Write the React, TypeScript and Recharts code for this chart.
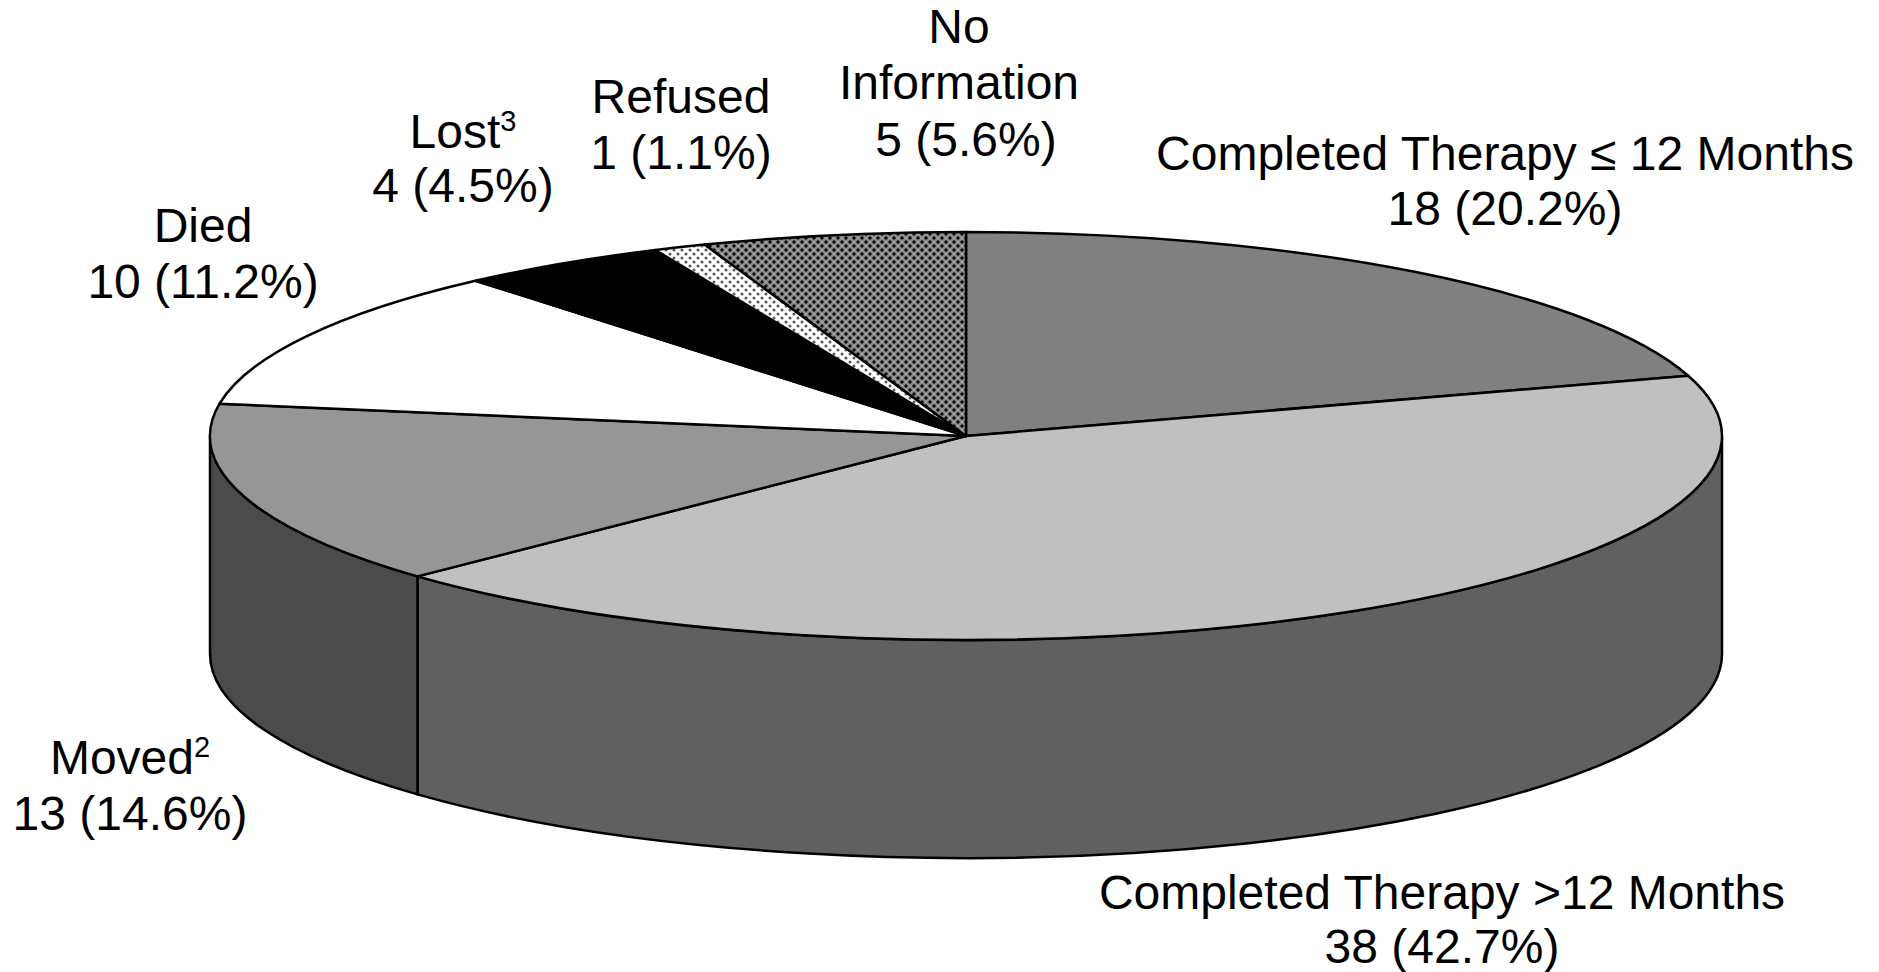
import { Cell, Pie, PieChart } from "recharts";

const CATEGORIES = [
  "Completed Therapy ≤ 12 Months",
  "Completed Therapy >12 Months",
  "Moved",
  "Died",
  "Lost",
  "Refused",
  "No Information",
];
const COUNTS = [18, 38, 13, 10, 4, 1, 5];
const SUMMARIES = ["18 (20.2%)", "38 (42.7%)", "13 (14.6%)", "10 (11.2%)", "4 (4.5%)", "1 (1.1%)", "5 (5.6%)"];
const NOTES = ["", "", "2", "", "3", "", ""];

const TOP_FILLS = ["#808080", "#c0c0c0", "#969696", "#ffffff", "#000000", "url(#dots)", "url(#weave)"];
const WALL_FILLS = ["#404040", "#606060", "#4b4b4b", "#808080", "#000000", "#808080", "#404040"];

// label anchors: centre x and baseline of the name, then of the count line
const LABEL_X = [1505, 1442, 130, 203, 463, 681, 959];
const LABEL_Y = [170, 909, 774, 242, 148, 113, 43];
const COUNT_X = [1505, 1442, 130, 203, 463, 681, 966];
const COUNT_Y = [225, 963, 830, 298, 202, 169, 156];

const WIDTH = 1879;
const HEIGHT = 972;
const CX = 966;
const CY = 436;
const RX = 756;
const RY = 204;
const DEPTH = 218;
const FONT = 48;
const LINE = 56;

const rad = (a: number) => (a * Math.PI) / 180;
const px = (a: number) => CX + RX * Math.cos(rad(a));
const py = (a: number) => CY - RY * Math.sin(rad(a));

/** Recharts hands over circle angles; the slice is redrawn squashed onto the tilted disc. */
function TopSlice({ startAngle, endAngle, fill }: any) {
  const large = Math.abs(startAngle - endAngle) > 180 ? 1 : 0;
  const d = `M${CX},${CY} L${px(startAngle)},${py(startAngle)} A${RX},${RY} 0 ${large} 1 ${px(endAngle)},${py(endAngle)} Z`;
  return <path d={d} fill={fill} stroke="#000" strokeWidth={2.5} strokeLinejoin="round" />;
}

/** Side wall, only for the part of the slice that faces the viewer (lower half of the disc). */
function WallSlice({ startAngle, endAngle, fill }: any) {
  const from = Math.min(startAngle, 0);
  const to = Math.max(endAngle, -180);
  if (from <= to) return null;
  const d =
    `M${px(from)},${py(from)} A${RX},${RY} 0 0 1 ${px(to)},${py(to)} ` +
    `L${px(to)},${py(to) + DEPTH} A${RX},${RY} 0 0 0 ${px(from)},${py(from) + DEPTH} Z`;
  return <path d={d} fill={fill} stroke="#000" strokeWidth={2.5} strokeLinejoin="round" />;
}

function SliceLabel({ index }: any) {
  const i = index as number;
  const words = i === 6 ? ["No", "Information"] : [CATEGORIES[i]];
  const x = LABEL_X[i];
  const y = LABEL_Y[i];
  return (
    <text textAnchor="middle" fontFamily="Liberation Sans" fontSize={FONT} fill="#000">
      {words.map((w, k) => (
        <tspan key={w} x={x} y={y + k * LINE}>
          {w}
          {NOTES[i] && (
            <tspan fontSize={29} dy={-17}>
              {NOTES[i]}
            </tspan>
          )}
        </tspan>
      ))}
      <tspan x={COUNT_X[i]} y={COUNT_Y[i]}>
        {SUMMARIES[i]}
      </tspan>
    </text>
  );
}

const rows = CATEGORIES.map((name, i) => ({ name, value: COUNTS[i] }));

export default function App() {
  return (
    <div style={{ position: "absolute", left: 0, top: 0, width: WIDTH, height: HEIGHT, background: "#fff" }}>
      <PieChart width={WIDTH} height={HEIGHT} margin={{ top: 0, right: 0, bottom: 0, left: 0 }}>
        <defs>
          <pattern id="dots" width="8" height="8" patternUnits="userSpaceOnUse">
            <rect width="8" height="8" fill="#fff" />
            <circle cx="2" cy="2" r="1.5" fill="#555" />
            <circle cx="6" cy="6" r="1.5" fill="#555" />
          </pattern>
          <pattern id="weave" width="8" height="8" patternUnits="userSpaceOnUse">
            <rect width="8" height="8" fill="#8c8c8c" />
            <path d="M1.3,0.3h1.4v1h1v1.4h-1v1h-1.4v-1h-1v-1.4h1z" fill="#000" />
            <path d="M5.3,4.3h1.4v1h1v1.4h-1v1h-1.4v-1h-1v-1.4h1z" fill="#000" />
            <rect x="5.5" y="1.5" width="1" height="1" fill="#ddd" />
            <rect x="1.5" y="5.5" width="1" height="1" fill="#ddd" />
          </pattern>
        </defs>
        <Pie
          data={rows}
          dataKey="value"
          nameKey="name"
          cx={CX}
          cy={CY}
          outerRadius={RX}
          startAngle={90}
          endAngle={-270}
          shape={WallSlice}
          isAnimationActive={false}
        >
          {rows.map((_, i) => (
            <Cell key={i} fill={WALL_FILLS[i]} />
          ))}
        </Pie>
        <Pie
          data={rows}
          dataKey="value"
          nameKey="name"
          cx={CX}
          cy={CY}
          outerRadius={RX}
          startAngle={90}
          endAngle={-270}
          shape={TopSlice}
          label={SliceLabel}
          labelLine={false}
          isAnimationActive={false}
        >
          {rows.map((_, i) => (
            <Cell key={i} fill={TOP_FILLS[i]} />
          ))}
        </Pie>
      </PieChart>
    </div>
  );
}
